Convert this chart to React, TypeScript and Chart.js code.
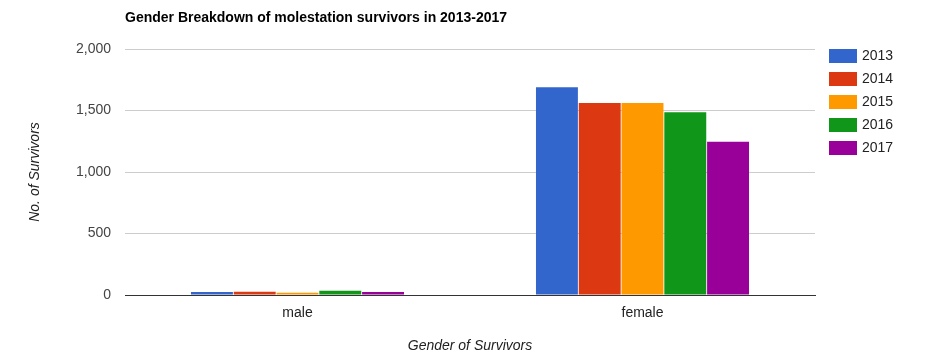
import React, { useEffect, useRef } from "react";
import { Chart, registerables } from "chart.js";

Chart.register(...registerables);

const TITLE = "Gender Breakdown of molestation survivors in 2013-2017";
const categories = ["male", "female"];
const years = ["2013", "2014", "2015", "2016", "2017"];
const values2013 = [25, 1690];
const values2014 = [27, 1560];
const values2015 = [18, 1560];
const values2016 = [35, 1485];
const values2017 = [25, 1245];
const colors = ["#3366cc", "#dc3912", "#ff9900", "#109618", "#990099"];
const yTicks = [0, 500, 1000, 1500, 2000];

const FONT = "Arial, 'Liberation Sans', sans-serif";

const overlay = {
  id: "overlay",
  afterDraw(chart: any) {
    const { ctx, chartArea } = chart;
    ctx.save();
    ctx.font = `bold 14px ${FONT}`;
    ctx.fillStyle = "#000";
    ctx.textBaseline = "middle";
    ctx.textAlign = "left";
    ctx.fillText(TITLE, chartArea.left, 18);
    chart.data.datasets.forEach((ds: any, i: number) => {
      const y0 = chartArea.top + i * 23;
      ctx.fillStyle = ds.backgroundColor;
      ctx.fillRect(chartArea.right + 14, y0, 28, 14);
      ctx.fillStyle = "#222";
      ctx.font = `14px ${FONT}`;
      ctx.fillText(ds.label, chartArea.right + 47, y0 + 7);
    });
    ctx.restore();
  },
};

export default function App() {
  const ref = useRef<HTMLCanvasElement>(null);
  useEffect(() => {
    document.body.style.margin = "0";
    const series = [values2013, values2014, values2015, values2016, values2017];
    const chart = new Chart(ref.current!, {
      type: "bar",
      data: {
        labels: categories,
        datasets: years.map((y, i) => ({
          label: y,
          data: series[i],
          backgroundColor: colors[i],
          categoryPercentage: 0.62,
          barPercentage: 0.98,
        })),
      },
      plugins: [overlay],
      options: {
        animation: false,
        responsive: true,
        maintainAspectRatio: false,
        layout: { padding: { top: 49, right: 110, bottom: 0, left: 0 } },
        plugins: {
          legend: { display: false },
          title: { display: false },
          tooltip: { enabled: false },
        },
        scales: {
          x: {
            grid: { display: false, drawTicks: false },
            border: { display: true, color: "#333" },
            ticks: { color: "#222", font: { size: 14, family: FONT }, padding: 10 },
            title: {
              display: true,
              text: "Gender of Survivors",
              color: "#222",
              font: { size: 14, family: FONT, style: "italic" },
              padding: { top: 0, bottom: 9 },
            },
            afterFit: (s: any) => {
              s.height = 69;
            },
          },
          y: {
            min: 0,
            max: 2000,
            afterBuildTicks: (s: any) => {
              s.ticks = yTicks.map((v) => ({ value: v }));
            },
            grid: {
              drawTicks: false,
              color: (c: any) => (c.tick && c.tick.value === 0 ? "#333" : "#cccccc"),
            },
            border: { display: false },
            ticks: {
              color: "#444",
              font: { size: 14, family: FONT },
              padding: 14,
              callback: (v: any) => Number(v).toLocaleString("en-US"),
            },
            title: {
              display: true,
              text: "No. of Survivors",
              color: "#222",
              font: { size: 14, family: FONT, style: "italic" },
              padding: { top: 27, bottom: 0 },
            },
            afterFit: (s: any) => {
              s.width = 125;
            },
          },
        },
      },
    });
    return () => chart.destroy();
  }, []);
  return (
    <div style={{ position: "relative", width: 925, height: 364 }}>
      <canvas ref={ref} />
    </div>
  );
}
